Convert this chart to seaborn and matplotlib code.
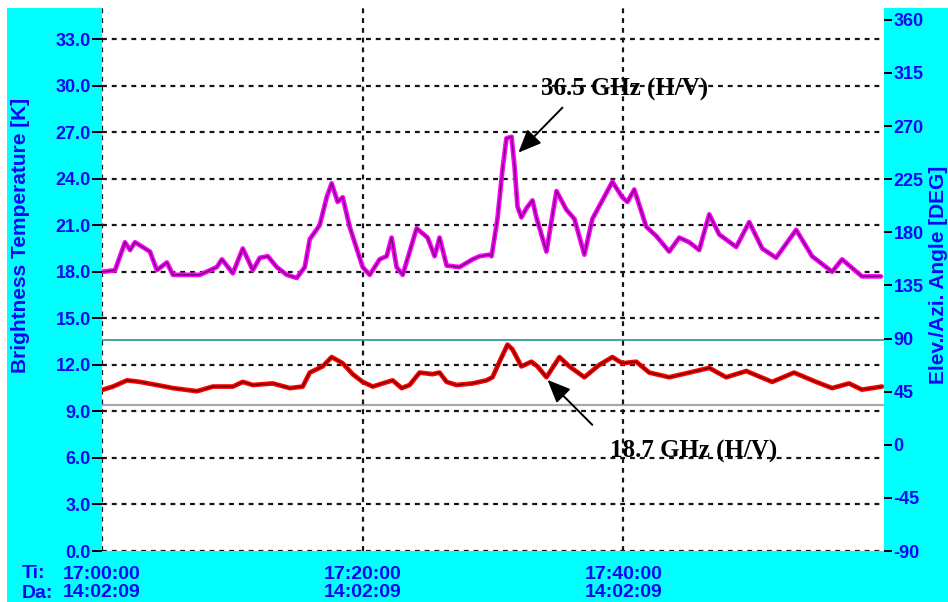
import matplotlib
matplotlib.use("Agg")
import matplotlib.pyplot as plt
from matplotlib.patches import Rectangle
import seaborn as sns

# minutes after 17:00:00
t36 = [0.08, 1.0, 1.76, 2.15, 2.53, 3.68, 4.21, 4.98, 5.44, 7.51, 8.81, 9.2, 10.04, 10.8,
       11.57, 12.11, 12.72, 13.41, 14.18, 14.94, 15.56, 15.94, 16.7, 17.24, 17.62, 18.08,
       18.47, 19.0, 20.0, 20.54, 21.3, 21.84, 22.22, 22.6, 23.07, 24.14, 24.98, 25.52,
       25.9, 26.44, 27.43, 28.43, 28.97, 29.73, 29.89, 30.34, 30.73, 31.03, 31.42, 31.65,
       31.88, 32.18, 32.57, 33.03, 33.33, 34.1, 34.87, 35.63, 36.25, 37.01, 37.62, 38.39,
       39.16, 39.92, 40.31, 40.84, 41.76, 42.53, 43.52, 44.29, 45.06, 45.82, 46.59, 47.36,
       48.66, 49.66, 50.65, 51.72, 53.26, 54.48, 56.02, 56.78, 58.31, 59.77]
tb36 = [18.0, 18.1, 19.9, 19.4, 19.9, 19.3, 18.1, 18.6, 17.8, 17.8, 18.3, 18.8, 17.9, 19.5,
        18.1, 18.9, 19.0, 18.3, 17.8, 17.6, 18.3, 20.1, 21.0, 22.8, 23.7, 22.5,
        22.8, 20.9, 18.3, 17.8, 18.8, 19.0, 20.2, 18.3, 17.8, 20.8, 20.2, 19.0,
        20.2, 18.4, 18.3, 18.8, 19.0, 19.1, 19.0, 21.4, 24.6, 26.6, 26.7, 24.8,
        22.2, 21.5, 22.1, 22.6, 21.5, 19.3, 23.2, 22.0, 21.4, 19.1, 21.4, 22.6,
        23.8, 22.8, 22.5, 23.3, 20.9, 20.3, 19.3, 20.2, 19.9, 19.4, 21.7, 20.4,
        19.6, 21.2, 19.5, 18.9, 20.7, 19.0, 18.0, 18.8, 17.7, 17.7]

t18 = [0.08, 0.84, 1.92, 2.91, 4.21, 5.44, 7.28, 8.51, 10.04, 10.8, 11.57, 13.1, 14.41,
       15.4, 15.94, 16.93, 17.62, 18.47, 19.23, 20.0, 20.77, 22.3, 22.99, 23.6, 24.37,
       25.36, 25.9, 26.44, 27.2, 28.43, 28.97, 29.5, 29.96, 30.5, 31.11, 31.49, 32.18,
       32.95, 33.41, 34.1, 35.1, 35.86, 37.01, 38.16, 39.16, 39.92, 40.99, 41.99, 43.52,
       45.06, 46.59, 47.89, 49.43, 51.42, 53.1, 54.79, 56.02, 57.32, 58.31, 59.85]
tb18 = [10.4, 10.6, 11.0, 10.9, 10.7, 10.5, 10.3, 10.6, 10.6, 10.9, 10.7, 10.8, 10.5,
        10.6, 11.5, 11.9, 12.5, 12.1, 11.4, 10.9, 10.6, 11.0, 10.5, 10.7, 11.5,
        11.4, 11.5, 10.9, 10.7, 10.8, 10.9, 11.0, 11.2, 12.2, 13.3, 13.0, 11.9,
        12.2, 11.9, 11.2, 12.5, 11.9, 11.2, 12.0, 12.5, 12.1, 12.2, 11.5, 11.2,
        11.5, 11.8, 11.2, 11.6, 10.9, 11.5, 10.9, 10.5, 10.8, 10.4, 10.6]

elev_angle = 89
azi_angle = 34

x_ticks = [0, 20, 40]
x_labels = ["17:00:00\n14:02:09", "17:20:00\n14:02:09", "17:40:00\n14:02:09"]
y_ticks = [0, 3, 6, 9, 12, 15, 18, 21, 24, 27, 30, 33]
y2_ticks = [-90, -45, 0, 45, 90, 135, 180, 225, 270, 315, 360]

blue = "#0a0af0"
sns.set_style("white")
plt.rcParams["font.family"] = ["Liberation Sans", "DejaVu Sans"]
plt.rcParams["font.weight"] = "bold"

fig = plt.figure(figsize=(9.48, 6.02), dpi=100, facecolor="#00ffff")
fig.patches.append(Rectangle((0, 0), 7 / 948, 1, transform=fig.transFigure,
                             facecolor="white", edgecolor="none", zorder=0))
fig.patches.append(Rectangle((0, 1 - 8 / 602), 1, 8 / 602, transform=fig.transFigure,
                             facecolor="white", edgecolor="none", zorder=0))

ax = fig.add_axes([102 / 948, 51 / 602, 782 / 948, 543 / 602])
ax2 = ax.twinx()
ax2.set_zorder(1)
ax.set_zorder(2)
ax2.patch.set_visible(True)
ax2.set_facecolor("white")
ax.patch.set_visible(False)

# angle lines on right axis
ax2.axhline(elev_angle, color="#3ea6a2", lw=1.4)
ax2.axhline(azi_angle, color="#a8a8a8", lw=1.6)
ax2.set_ylim(-90, 370)
ax2.set_yticks(y2_ticks)
ax2.set_yticklabels([str(v) for v in y2_ticks], fontweight="bold")

sns.lineplot(x=t36, y=tb36, ax=ax, color="#ff00ff", lw=3.4)
sns.lineplot(x=t36, y=tb36, ax=ax, color="#7a0a7a", lw=1.1)
sns.lineplot(x=t18, y=tb18, ax=ax, color="#ff0000", lw=3.4)
sns.lineplot(x=t18, y=tb18, ax=ax, color="#7a0000", lw=1.1)

ax.set_xlim(0, 60)
ax.set_ylim(0, 35)
ax.set_xticks(x_ticks)
ax.set_xticklabels(x_labels, fontweight="bold", linespacing=1.08)
ax.set_yticks(y_ticks)
ax.set_yticklabels([f"{v:.1f}" for v in y_ticks], fontweight="bold")
ax.grid(True, color="#151515", linestyle=(0, (2.2, 2.2)), lw=1.6)
ax.set_axisbelow(True)

for a in (ax, ax2):
    for s in a.spines.values():
        s.set_visible(False)

ax.tick_params(axis="y", direction="out", length=7, width=1.4, color="black",
               labelcolor=blue, labelsize=13, pad=1)
ax.tick_params(axis="x", direction="out", length=6.5, width=1.4, color="black",
               labelcolor=blue, labelsize=14, pad=4)
ax2.tick_params(axis="y", direction="out", length=6, width=1.4, color="black",
                labelcolor=blue, labelsize=13, pad=1)

fig.text(21 / 948, 1 - 235 / 602, "Brightness Temperature [K]", rotation=90,
         ha="center", va="center", color=blue, fontsize=15, fontweight="bold")
fig.text(939 / 948, 1 - 275 / 602, "Elev./Azi. Angle [DEG]", rotation=90,
         ha="center", va="center", color=blue, fontsize=15, fontweight="bold")
fig.text(22 / 948, 1 - 573 / 602, "Ti:", ha="left", va="center", color=blue,
         fontsize=14, fontweight="bold")
fig.text(22 / 948, 1 - 593 / 602, "Da:", ha="left", va="center", color=blue,
         fontsize=14, fontweight="bold")

arrow = dict(arrowstyle="-|>,head_length=0.7,head_width=0.3", color="black", lw=1.4,
             shrinkA=0, shrinkB=0, mutation_scale=20)
ax.annotate("", xy=(31.95, 25.68), xytext=(35.33, 28.58), arrowprops=arrow)
ax.text(40.08, 29.74, "36.5 GHz (H/V)", ha="center", va="center", color="black",
        family=["Liberation Serif", "DejaVu Serif"], fontsize=18, fontweight="bold")
ax.annotate("", xy=(34.18, 11.03), xytext=(37.62, 8.13), arrowprops=arrow)
ax.text(45.36, 6.39, "18.7 GHz (H/V)", ha="center", va="center", color="black",
        family=["Liberation Serif", "DejaVu Serif"], fontsize=18, fontweight="bold")

fig.savefig("out.png", dpi=100, facecolor=fig.get_facecolor())
